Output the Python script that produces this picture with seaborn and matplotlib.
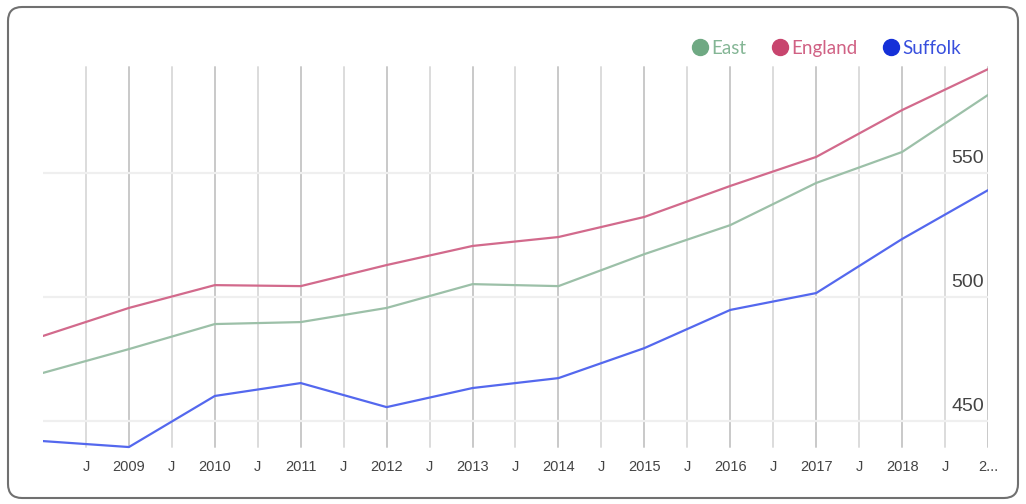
import numpy as np
import pandas as pd
import matplotlib
matplotlib.use("Agg")
import matplotlib.pyplot as plt
import seaborn as sns
from matplotlib.patches import FancyBboxPatch
from matplotlib.transforms import IdentityTransform, ScaledTranslation
from matplotlib.lines import Line2D

years = [2008, 2009, 2010, 2011, 2012, 2013, 2014, 2015, 2016, 2017, 2018, 2019]
east = [469.4, 479.0, 489.1, 489.9, 495.6, 505.2, 504.4, 517.3, 529.0, 546.0, 558.5, 581.5]
england = [484.3, 495.6, 504.8, 504.4, 512.9, 520.6, 524.2, 532.3, 544.8, 556.5, 575.4, 591.9]
suffolk = [441.9, 439.5, 460.1, 465.3, 455.6, 463.3, 467.3, 479.4, 494.8, 501.6, 523.4, 543.1]
series_names = ["East", "England", "Suffolk"]
line_colors = ["#9cc0a8", "#d26a8c", "#5468ee"]
dot_colors = ["#6fa983", "#c8456e", "#1530d8"]
year_labels = ["2009", "2010", "2011", "2012", "2013", "2014", "2015", "2016", "2017", "2018", "2..."]
y_ticks = [450, 500, 550]

df = pd.DataFrame({
    "year": years * 3,
    "value": east + england + suffolk,
    "series": ["East"] * len(years) + ["England"] * len(years) + ["Suffolk"] * len(years),
})

sns.set_style("white")
plt.rcParams["font.family"] = ["Liberation Sans", "DejaVu Sans"]

fig = plt.figure(figsize=(10.26, 5.04), dpi=100)
ax = fig.add_axes([43 / 1026, 1 - 452 / 504, (988 - 43) / 1026, (452 - 58) / 504])

sns.lineplot(data=df, x="year", y="value", hue="series", hue_order=series_names,
             palette=dict(zip(series_names, line_colors)), linewidth=1.6,
             legend=False, ax=ax, zorder=3)

ax.set_xlim(2008, 2019)
ax.set_ylim(437.5, 596.4)

# x ticks: years (major) and "J" (minor, mid-year)
major = [y + 1 for y in years[:-1]]
minor = [y + 0.5 for y in years[:-1]]
ax.set_xticks(major)
ax.set_xticklabels(year_labels)
ax.set_xticks(minor, minor=True)
ax.set_xticklabels(["J"] * len(minor), minor=True)
ax.tick_params(axis="x", which="both", length=0, pad=6, labelsize=10.5, labelcolor="#444444")

ax.yaxis.tick_right()
ax.set_yticks(y_ticks)
ax.set_yticklabels([str(v) for v in y_ticks])
ax.tick_params(axis="y", length=0, pad=-3, labelsize=14, labelcolor="#444444")
for lab in ax.get_yticklabels():
    lab.set_horizontalalignment("right")
    lab.set_verticalalignment("bottom")
    lab.set_transform(lab.get_transform() + ScaledTranslation(0, 4 / 72, fig.dpi_scale_trans))

ax.set_xlabel("")
ax.set_ylabel("")
for s in ax.spines.values():
    s.set_visible(False)

ax.grid(False)
vtop = (452 - 67) / 394
vbot = (452 - 447) / 394
for x in major:
    ax.axvline(x, ymin=vbot, ymax=vtop, color="#c9c9c9", linewidth=1.4, zorder=1)
for x in minor:
    ax.axvline(x, ymin=vbot, ymax=vtop, color="#dcdcdc", linewidth=1.4, zorder=1)
for y in y_ticks:
    ax.axhline(y, color="#efefef", linewidth=1.6, zorder=1)

handles = [Line2D([], [], linestyle="none", marker="o", markersize=11.5,
                  markerfacecolor=c, markeredgecolor=c) for c in dot_colors]
leg = fig.legend(handles, series_names, loc="upper right", bbox_to_anchor=(978 / 1026, 1 - 23 / 504),
                 ncol=3, frameon=False, handletextpad=0.1, columnspacing=1.3,
                 handlelength=1.0, prop={"family": "Lato", "size": 13.5})
for t, c in zip(leg.get_texts(), dot_colors):
    t.set_color(c)
    t.set_alpha(0.85)

border = FancyBboxPatch((8, 6), 1010, 491, boxstyle="round,pad=0,rounding_size=14",
                        transform=IdentityTransform(), facecolor="none",
                        edgecolor="#707070", linewidth=1.5)
fig.add_artist(border)

fig.savefig("out.png", dpi=100)
